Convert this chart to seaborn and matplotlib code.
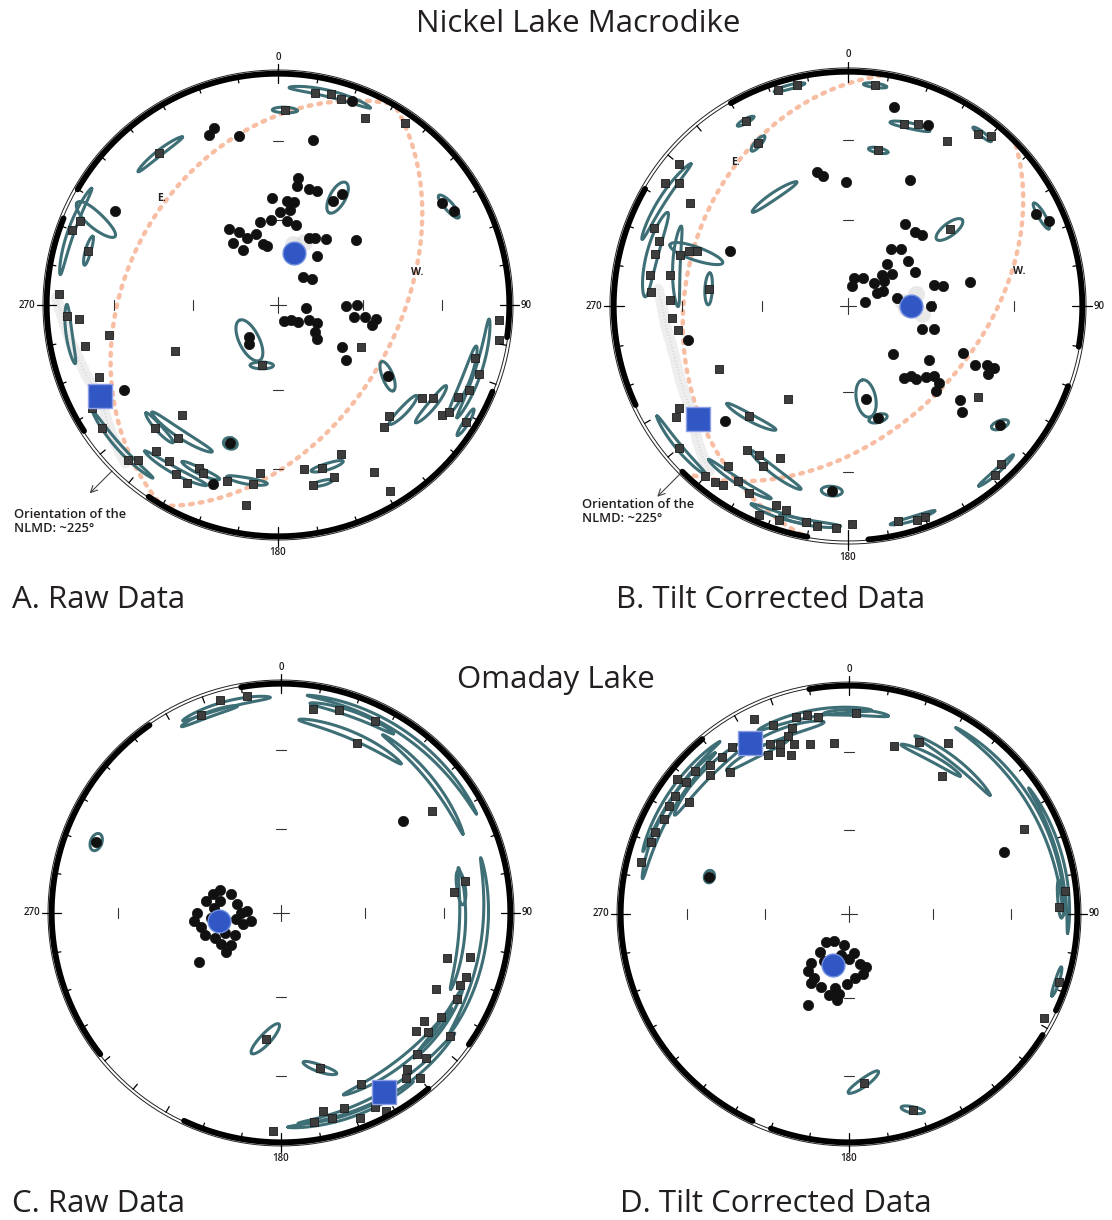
import numpy as np
import pandas as pd
import matplotlib
matplotlib.use("Agg")
import matplotlib.pyplot as plt
import seaborn as sns

# ------------------------------
# Data: declination / inclination read off the nets
# (negative inclination = upper hemisphere, drawn as squares)
# ------------------------------
A_dot_dec = [340, 338, 347, 12, 20, 300, 9, 9, 15, 19, 28, 30, 357, 5, 9, 1, 7, 348, 355, 6, 13, 327, 332, 335,
             324, 343, 346, 328, 349, 25, 29, 36, 50, 38, 42, 52, 97, 159, 139, 130, 116, 115, 126, 131, 91, 90,
             99, 98, 98, 102, 123, 129, 241, 199, 200, 123, 58, 62, 222, 216]
A_dot_inc = [20, 22, 26, 28, 7, 20, 44, 47, 47, 47, 48, 44, 52, 53, 53, 57, 56, 60, 60, 60, 61, 58, 61, 64,
             63, 64, 68, 67, 69, 64, 63, 61, 54, 68, 77, 75, 80, 84, 83, 81, 78, 75, 74, 72, 66, 62,
             63, 59, 55, 56, 63, 59, 25, 37, 19, 43, 18, 15, 75, 73]
A_sq_dec = [10, 14, 17, 2, 25, 35, 322, 293, 290, 286, 273, 267, 266, 258, 260, 246, 117, 241, 235, 224, 222,
            225, 217, 221, 220, 215, 211, 207, 206, 204, 196, 188, 186, 189, 171, 165, 157, 169, 162, 150, 149,
            135, 139, 123, 121, 124, 122, 122, 105, 109, 94, 99, 114, 117, 195, 248]
A_sq_inc = [-8, -7, -8, -17, -12, -5, -18, -8, -6, -16, -6, -10, -15, -16, -27, -50, -57, -9, -8, -8, -11,
            -26, -29, -37, -19, -19, -16, -15, -23, -22, -22, -23, -28, -14, -29, -28, -31, -22, -23, -18, -7,
            -33, -31, -27, -23, -16, -14, -5, -13, -9, -5, -4, -11, -14, -68, -18]
A_mean_dot = (17, 71)
A_mean_sq = (243, -15)
A_ell_dec = [14, 2, 322, 29, 60, 290, 295, 286, 219, 195, 123, 217, 224, 212, 228, 205, 190, 163, 166, 123,
             130, 108, 112, 122, 199, 262]
A_ell_inc = [-7, -17, -18, 46, 16, -6, -14, -16, 74, -68, 43, -31, -27, -17, -9, -22, -24, -28, -22, -22,
             -30, -10, -14, -5, 37, -10]
A_ell_a = [11, 3.5, 8, 6.5, 4.3, 12, 11, 4.2, 7.8, 4, 5.7, 11, 6, 10, 12, 6, 6, 5, 3, 7, 6, 14, 10, 4, 2.2, 8]
A_ell_b = [1.5, 1.2, 1.2, 2.5, 1.8, 1.5, 2.2, 1.2, 3.5, 1.2, 1.8, 1.6, 1.3, 1.4, 1.2, 1.3, 1.3, 1.3, 1, 1.6,
           1.5, 1.5, 1.8, 1.2, 2.2, 1.4]
A_ell_az = [90, 90, 90, 0, 110, 90, 10, 90, 65, 75, 150, 85, 95, 85, 90, 90, 90, 90, 90, 100, 95, 90, 90, 90,
            0, 90]
A_gc_dipdir = [300, 120]
A_gc_dip = [35, 48]
# bootstrap cloud of the mean directions (faint grey smear): rim band, then blobs near mean
A_cloud_dec = [272, 266, 260, 255, 250, 246, 243, 240, 236, 232, 228, 224, 20, 17, 14, 22]
A_cloud_inc = [-5, -8, -10, -12, -13, -14, -15, -14, -12, -10, -8, -6, 70, 72, 68, 66]

B_dot_dec = [347, 349, 359, 26, 13, 24, 295, 35, 42, 46, 37, 43, 43, 53, 63, 48, 54, 11, 29, 11, 48, 66, 67,
             55, 77, 81, 76, 78, 79, 90, 107, 105, 137, 124, 142, 138, 137, 132, 129, 130, 134, 112, 115, 113,
             113, 116, 130, 133, 128, 169, 165, 185, 227, 258, 64, 67]
B_dot_inc = [41, 43, 46, 40, 14, 17, 44, 55, 55, 54, 65, 63, 70, 64, 64, 74, 71, 80, 79, 83, 78, 79, 77,
             75, 84, 73, 59, 56, 46, 61, 63, 59, 67, 56, 58, 57, 55, 53, 51, 48, 47, 46, 40, 36,
             33, 34, 38, 34, 19, 57, 49, 22, 29, 31, 12, 8]
B_sq_dec = [7, 342, 347, 331, 331, 11, 17, 21, 31, 37, 40, 303, 304, 306, 310, 292, 289, 285, 279, 274, 287,
            289, 290, 280, 277, 272, 266, 262, 244, 213, 222, 230, 237, 239, 220, 217, 215, 217, 212, 208, 203,
            215, 211, 208, 204, 200, 197, 198, 191, 188, 183, 179, 167, 162, 160, 139, 136, 125, 53]
B_sq_inc = [-6, -4, -4, -11, -22, -33, -20, -18, -19, -9, -6, -21, -7, -12, -7, -12, -16, -16, -16, -17, -26,
            -29, -32, -24, -40, -25, -26, -28, -39, -51, -37, -7, -14, -17, -6, -7, -8, -16, -13, -11, -4,
            -26, -27, -24, -30, -11, -10, -5, -7, -6, -6, -8, -7, -5, -5, -5, -7, -33, -45]
B_mean_dot = (90, 68)
B_mean_sq = (233, -21)
B_ell_dec = [7, 345, 331, 331, 11, 326, 19, 38, 53, 285, 300, 283, 289, 277, 169, 165, 185, 221, 204, 230,
             212, 198, 128, 65, 138, 190, 163]
B_ell_inc = [-6, -4, -11, -22, -33, -43, -20, -8, -45, -15, -10, -26, -32, -40, 57, 49, 22, -37, -24, -7,
             -13, -7, 19, 10, -6, -7, -6]
B_ell_a = [3, 4, 2.5, 3, 3, 8.5, 5.8, 3, 6, 12, 12, 12, 11, 5, 6.8, 3, 3, 8.7, 9.5, 10, 10, 8, 3, 4, 6, 8, 6]
B_ell_b = [1, 1, 1, 1.2, 1, 1.3, 1.2, 1, 2, 2.5, 1.5, 1.5, 2, 1.4, 3.2, 1.5, 2, 1.3, 1.4, 1.3, 1.3, 1.2, 1.5,
           1.5, 1, 1.2, 1]
B_ell_az = [90, 90, 90, 60, 90, 90, 80, 90, 0, 90, 95, 75, 0, 85, 0, 90, 90, 74, 109, 90, 90, 90, 40, 100,
            90, 90, 90]
B_gc_dipdir = [280, 135]
B_gc_dip = [31, 46]
B_cloud_dec = [275, 270, 264, 258, 252, 246, 241, 236, 232, 228, 224, 220, 92, 86, 80, 96]
B_cloud_inc = [-20, -22, -23, -24, -24, -23, -22, -21, -18, -15, -12, -9, 70, 71, 66, 64]

C_dot_dec = [286, 291, 291, 279, 281, 282, 270, 265, 260, 270, 273, 256, 254, 254, 249, 250, 245, 243, 237,
             235, 239, 274, 266, 263, 291, 53]
C_dot_inc = [65, 67, 71, 63, 68, 74, 60, 59, 61, 76, 78, 79, 76, 62, 65, 69, 72, 66, 69, 66, 56, 66, 65, 74,
             15, 34]
C_sq_dec = [338, 344, 351, 9, 16, 26, 24, 56, 80, 83, 105, 103, 109, 112, 116, 116, 123, 127, 131, 129, 126,
            136, 135, 141, 140, 155, 154, 152, 162, 159, 166, 168, 171, 148, 143, 182, 187, 166]
C_sq_inc = [-8, -4, -5, -11, -9, -8, -20, -22, -20, -25, -26, -17, -16, -17, -26, -16, -18, -23, -23, -19,
            -10, -16, -12, -14, -7, -19, -7, -3, -12, -5, -9, -13, -9, -10, -11, -6, -44, -31]
C_mean_dot = (263, 68)
C_mean_sq = (150, -11)
C_ell_dec = [345, 340, 22, 20, 35, 48, 82, 100, 95, 150, 140, 160, 125, 187, 166, 291]
C_ell_inc = [-7, -9, -18, -9, -6, -14, -22, -12, -22, -10, -18, -8, -16, -44, -31, 15]
C_ell_a = [12, 8, 16, 12, 28, 18, 5, 25, 18, 25, 20, 18, 12, 7.3, 6, 2.5]
C_ell_b = [1.5, 1.2, 1.6, 1.3, 1.2, 1.2, 1.8, 1.2, 1.3, 1.5, 1.5, 1.2, 1.3, 1.8, 1.3, 2.5]
C_ell_az = [90, 90, 92, 90, 90, 95, 90, 90, 88, 90, 92, 90, 90, 31, -49, 0]

D_dot_dec = [219, 208, 189, 218, 172, 218, 216, 209, 180, 168, 162, 167, 209, 201, 191, 182, 175, 194, 187,
             188, 204, 208, 191, 285, 68]
D_dot_inc = [77, 79, 79, 73, 76, 68, 65, 64, 74, 72, 70, 68, 62, 62, 63, 65, 67, 60, 61, 59, 54, 71, 75,
             37, 28]
D_sq_dec = [2, 348, 351, 345, 334, 338, 343, 341, 338, 335, 342, 337, 333, 340, 347, 355, 15, 22, 30, 34, 64,
            84, 88, 108, 118, 325, 321, 317, 315, 320, 313, 309, 308, 304, 305, 301, 297, 293, 290, 284, 175,
            162]
D_sq_inc = [-13, -12, -14, -12, -6, -12, -16, -19, -21, -19, -23, -24, -23, -27, -25, -26, -25, -20, -15, -28,
            -16, -6, -9, -4, -4, -12, -13, -12, -15, -20, -9, -9, -5, -9, -16, -9, -10, -9, -9, -7, -27, -11]
D_mean_dot = (197, 71)
D_mean_sq = (330, -15)
D_ell_dec = [350, 340, 2, 330, 300, 315, 305, 35, 28, 60, 75, 86, 108, 175, 162, 285]
D_ell_inc = [-12, -17, -13, -20, -10, -14, -7, -20, -24, -8, -5, -8, -5, -27, -11, 37]
D_ell_a = [16, 12, 9, 10, 20, 15, 18, 14, 10, 30, 20, 5, 4, 6.2, 3.9, 2]
D_ell_b = [1.5, 2, 1.3, 1.8, 1.5, 2, 1.2, 1.3, 1.3, 1.2, 1.0, 1.5, 1, 1.5, 1.2, 2]
D_ell_az = [90, 90, 90, 95, 90, 90, 90, 95, 90, 90, 90, 90, 90, 50, -44, 0]

NLMD_trend = 225

# ------------------------------
# Style
# ------------------------------
sns.set_theme(style="white")
plt.rcParams['font.family'] = ['Open Sans', 'DejaVu Sans']
TXT = '#231f20'
TEAL = '#3f6f76'
BLUE = '#3157c4'
PEACH = '#f8bea4'


def vec_xy(P):
    dec = np.arctan2(P[1], P[0])
    inc = np.arcsin(np.clip(np.abs(P[2]), 0, 1))
    r = np.sqrt(2) * np.sin((np.pi / 2 - inc) / 2)
    return r * np.sin(dec), r * np.cos(dec)


def to_xy(dec, inc):
    d = np.radians(np.asarray(dec, float))
    i = np.radians(np.asarray(inc, float))
    return vec_xy(np.array([np.cos(i) * np.cos(d), np.cos(i) * np.sin(d), np.sin(i)]))


def cone_xy(dec, inc, a, b, az, n=120):
    d, i, a, b, az = np.radians([dec, inc, a, b, az])
    D = np.array([np.cos(i) * np.cos(d), np.cos(i) * np.sin(d), np.sin(i)])
    ei = np.array([-np.sin(i) * np.cos(d), -np.sin(i) * np.sin(d), np.cos(i)])
    ed = np.array([-np.sin(d), np.cos(d), 0.0])
    u = np.cos(az) * ei + np.sin(az) * ed
    w = -np.sin(az) * ei + np.cos(az) * ed
    t = np.linspace(0, 2 * np.pi, n)
    P = D[:, None] + np.tan(a) * np.cos(t) * u[:, None] + np.tan(b) * np.sin(t) * w[:, None]
    P = P / np.linalg.norm(P, axis=0)
    return vec_xy(P)


def great_circle_xy(dipdir, dip, n=200):
    dd, dp = np.radians([dipdir, dip])
    s = np.array([np.cos(dd - np.pi / 2), np.sin(dd - np.pi / 2), 0.0])
    dv = np.array([np.cos(dp) * np.cos(dd), np.cos(dp) * np.sin(dd), np.sin(dp)])
    phi = np.linspace(0.03, np.pi - 0.03, n)
    P = np.cos(phi) * s[:, None] + np.sin(phi) * dv[:, None]
    return vec_xy(P)


W, H = 1112, 1220
fig = plt.figure(figsize=(W / 100, H / 100), dpi=100)
L = 1.12


def make_net(cx, cy, R, thick_arcs):
    ax = fig.add_axes([(cx - L * R) / W, 1 - (cy + L * R) / H, 2 * L * R / W, 2 * L * R / H])
    ax.set_xlim(-L, L)
    ax.set_ylim(-L, L)
    ax.set_aspect('equal')
    ax.axis('off')
    t = np.radians(np.linspace(0, 360, 721))
    for rr in (1.0, 1.013):
        ax.plot(rr * np.sin(t), rr * np.cos(t), color='#222222', lw=0.7, zorder=6)
    for a0, a1 in thick_arcs:
        tt = np.radians(np.linspace(a0, a1, 200))
        ax.plot(0.997 * np.sin(tt), 0.997 * np.cos(tt), color='black', lw=4.2,
                solid_capstyle='round', zorder=7)
    for dec in range(0, 360, 10):
        d = np.radians(dec)
        r0, r1 = (0.955, 1.04) if dec % 90 == 0 else (0.972, 1.0)
        ax.plot([r0 * np.sin(d), r1 * np.sin(d)], [r0 * np.cos(d), r1 * np.cos(d)],
                color='black', lw=0.9, zorder=7)
    kw = dict(fontsize=7, color=TXT, fontweight='semibold')
    ax.text(0, 1.045, '0', ha='center', va='bottom', **kw)
    ax.text(0, -1.045, '180', ha='center', va='top', **kw)
    ax.text(1.045, 0, '90', ha='left', va='center', **kw)
    ax.text(-1.045, 0, '270', ha='right', va='center', **kw)
    # inclination ticks (30 and 60 degrees) and centre cross
    for inc in (30, 60):
        rr = np.sqrt(2) * np.sin(np.radians(90 - inc) / 2)
        for sgn in (1, -1):
            ax.plot([-0.02, 0.02], [sgn * rr, sgn * rr], color='#333333', lw=0.8, zorder=2)
            ax.plot([sgn * rr, sgn * rr], [-0.02, 0.02], color='#333333', lw=0.8, zorder=2)
    ax.plot([-0.035, 0.035], [0, 0], color='#333333', lw=0.8, zorder=2)
    ax.plot([0, 0], [-0.035, 0.035], color='#333333', lw=0.8, zorder=2)
    return ax


def fill_net(ax, dot_dec, dot_inc, sq_dec, sq_inc, mean_dot, mean_sq, e_dec, e_inc, e_a, e_b, e_az):
    for d, i, a, b, z in zip(e_dec, e_inc, e_a, e_b, e_az):
        x, y = cone_xy(d, i, a, b, z)
        ax.plot(x, y, color=TEAL, lw=2.2, zorder=3, solid_joinstyle='round')
    sx, sy = to_xy(sq_dec, sq_inc)
    sns.scatterplot(x=sx, y=sy, ax=ax, marker='s', s=36, color='#3d3d3d', edgecolor='#1c1c1c',
                    linewidth=0.6, legend=False, zorder=4)
    dx, dy = to_xy(dot_dec, dot_inc)
    sns.scatterplot(x=dx, y=dy, ax=ax, marker='o', s=55, color='#111111', edgecolor='#111111',
                    linewidth=0.5, legend=False, zorder=5)
    mx, my = to_xy([mean_dot[0]], [mean_dot[1]])
    sns.scatterplot(x=mx, y=my, ax=ax, marker='o', s=270, color=BLUE, edgecolor='#6f8fe0',
                    linewidth=1, legend=False, zorder=8)
    qx, qy = to_xy([mean_sq[0]], [mean_sq[1]])
    sns.scatterplot(x=qx, y=qy, ax=ax, marker='s', s=300, color=BLUE, edgecolor='#8f9fe6',
                    linewidth=1, legend=False, zorder=8)


def add_cloud(ax, c_dec, c_inc):
    cx, cy = to_xy(c_dec, c_inc)
    ax.plot(cx[:12], cy[:12], color='#cfcfcf', lw=8, alpha=0.35, solid_capstyle='round', zorder=2)
    ax.plot(cx[:12], cy[:12], color='#bdbdbd', lw=1.2, ls=(0, (0.5, 1.5)), alpha=0.6, zorder=2)
    sns.scatterplot(x=cx[12:], y=cy[12:], ax=ax, marker='o', s=150, color='#d0d0d0', alpha=0.45,
                    linewidth=0, legend=False, zorder=2)


def add_planes(ax, dipdirs, dips, labels):
    for dd, dp in zip(dipdirs, dips):
        x, y = great_circle_xy(dd, dp)
        ax.plot(x, y, color=PEACH, lw=3.2, ls=(0, (0.6, 1.6)), dash_capstyle='round', zorder=1)
    for (lx, ly), s in labels:
        ax.text(lx, ly, s, fontsize=7.5, fontweight='bold', color=TXT, ha='center', va='center')


def add_arrow(ax):
    d = np.radians(NLMD_trend)
    ax.annotate('', xy=(1.16 * np.sin(d), 1.16 * np.cos(d)), xytext=(np.sin(d), np.cos(d)),
                arrowprops=dict(arrowstyle='->', color='#444444', lw=0.8), annotation_clip=False)


axA = make_net(278, 305, 232, [(300, 458), (112, 214), (237, 292)])
add_cloud(axA, A_cloud_dec, A_cloud_inc)
fill_net(axA, A_dot_dec, A_dot_inc, A_sq_dec, A_sq_inc, A_mean_dot, A_mean_sq,
         A_ell_dec, A_ell_inc, A_ell_a, A_ell_b, A_ell_az)
add_planes(axA, A_gc_dipdir, A_gc_dip, [((-0.5, 0.46), 'E.'), ((0.6, 0.14), 'W.')])
add_arrow(axA)

axB = make_net(848, 306, 235, [(330, 460), (110, 175), (190, 225), (245, 300)])
add_cloud(axB, B_cloud_dec, B_cloud_inc)
fill_net(axB, B_dot_dec, B_dot_inc, B_sq_dec, B_sq_inc, B_mean_dot, B_mean_sq,
         B_ell_dec, B_ell_inc, B_ell_a, B_ell_b, B_ell_az)
add_planes(axB, B_gc_dipdir, B_gc_dip, [((-0.48, 0.61), 'E.'), ((0.73, 0.145), 'W.')])
add_arrow(axB)

axC = make_net(281, 913, 230, [(232, 325), (350, 485), (140, 205)])
fill_net(axC, C_dot_dec, C_dot_inc, C_sq_dec, C_sq_inc, C_mean_dot, C_mean_sq,
         C_ell_dec, C_ell_inc, C_ell_a, C_ell_b, C_ell_az)

axD = make_net(849, 914, 229, [(205, 320), (350, 475), (122, 200)])
fill_net(axD, D_dot_dec, D_dot_inc, D_sq_dec, D_sq_inc, D_mean_dot, D_mean_sq,
         D_ell_dec, D_ell_inc, D_ell_a, D_ell_b, D_ell_az)

# ------------------------------
# Figure texts
# ------------------------------
fig.text(578 / W, 1 - 24 / H, 'Nickel Lake Macrodike', ha='center', va='center', fontsize=22.5, color=TXT)
fig.text(556 / W, 1 - 680 / H, 'Omaday Lake', ha='center', va='center', fontsize=22.5, color=TXT)
for x, y, s in [(12, 600, 'A. Raw Data'), (616, 600, 'B. Tilt Corrected Data'),
                (12, 1204, 'C. Raw Data'), (620, 1204, 'D. Tilt Corrected Data')]:
    fig.text(x / W, 1 - y / H, s, ha='left', va='center', fontsize=22.5, color=TXT)
for x, y in [(14, 508), (582, 498)]:
    fig.text(x / W, 1 - y / H, 'Orientation of the\nNLMD: ~225°', ha='left', va='top',
             fontsize=9.3, color=TXT, fontweight='semibold', linespacing=1.1)

fig.savefig('out.png', dpi=100)
